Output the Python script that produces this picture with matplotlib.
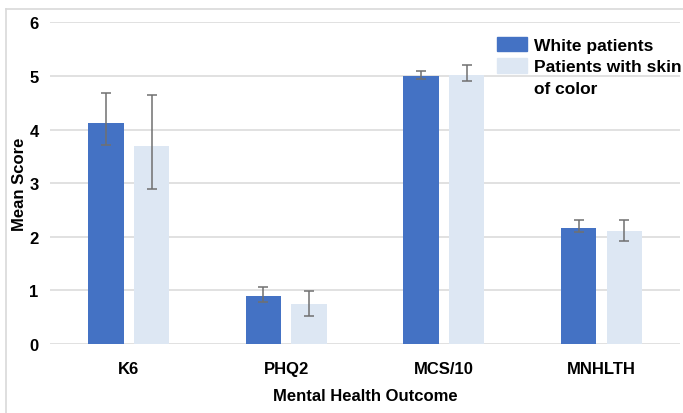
import numpy as np
import matplotlib.pyplot as plt
from matplotlib.lines import Line2D
from matplotlib.patches import Patch

plt.rcParams['font.family'] = ['Liberation Sans', 'DejaVu Sans']
plt.rcParams['font.weight'] = 'bold'

categories = ['K6', 'PHQ2', 'MCS/10', 'MNHLTH']
series_names = ['White patients', 'Patients with skin of color']

white_mean = [4.12, 0.90, 5.00, 2.17]
white_low = [3.72, 0.78, 4.95, 2.08]
white_high = [4.68, 1.07, 5.10, 2.32]

skin_mean = [3.70, 0.75, 5.02, 2.10]
skin_low = [2.90, 0.53, 4.90, 1.92]
skin_high = [4.65, 0.98, 5.20, 2.32]

colors = ['#4472C4', '#DDE7F3']

fig = plt.figure(figsize=(6.83, 4.14), dpi=100)
ax = fig.add_axes([0.073, 0.1667, 0.923, 0.777])

x = np.arange(len(categories))
w = 0.225
off = 0.145
for i, (m, lo, hi) in enumerate([(white_mean, white_low, white_high),
                                  (skin_mean, skin_low, skin_high)]):
    m = np.array(m)
    yerr = [m - np.array(lo), np.array(hi) - m]
    ax.bar(x + (i * 2 - 1) * off, m, w, color=colors[i], label=series_names[i], zorder=2)
    ax.errorbar(x + (i * 2 - 1) * off, m, yerr=yerr, fmt='none', ecolor='#707070',
                elinewidth=1.1, capsize=3.5, capthick=1.1, zorder=3)

ax.set_xlim(-0.5, len(categories) - 0.5)
ax.set_ylim(0, 6)
ax.set_yticks(range(7))
ax.set_xticks(x)
ax.set_xticklabels(categories)
ax.grid(axis='y', color='#D9D9D9', linewidth=1.1, zorder=0)
ax.set_axisbelow(True)
for s in ax.spines.values():
    s.set_visible(False)
ax.tick_params(length=0, labelsize=12)
ax.tick_params(axis='y', pad=8)
ax.tick_params(axis='x', pad=12)
ax.set_xlabel('Mental Health Outcome', fontsize=12, fontweight='bold', labelpad=9)
ax.set_ylabel('Mean Score', fontsize=12, fontweight='bold')
ax.yaxis.set_label_coords(-0.036, 0.5)

# second series name wraps onto two lines; handle sits next to the first line
handles = [Patch(color=colors[0]), Patch(color=colors[1]), Patch(color='none')]
labels = ['White patients', 'Patients with skin', 'of color']
ax.legend(handles, labels, loc='upper left', bbox_to_anchor=(0.71, 0.955), frameon=False,
          fontsize=12.5, handlelength=1.7, handleheight=0.9, handletextpad=0.4,
          labelspacing=0.3, borderaxespad=0, borderpad=0)

# light border around the figure
fig.add_artist(Line2D([6 / 683, 1], [1 - 10 / 414] * 2, color='#D9D9D9', lw=1.2))
fig.add_artist(Line2D([6 / 683] * 2, [0, 1 - 10 / 414], color='#D9D9D9', lw=1.2))

fig.savefig('out.png', dpi=100)
